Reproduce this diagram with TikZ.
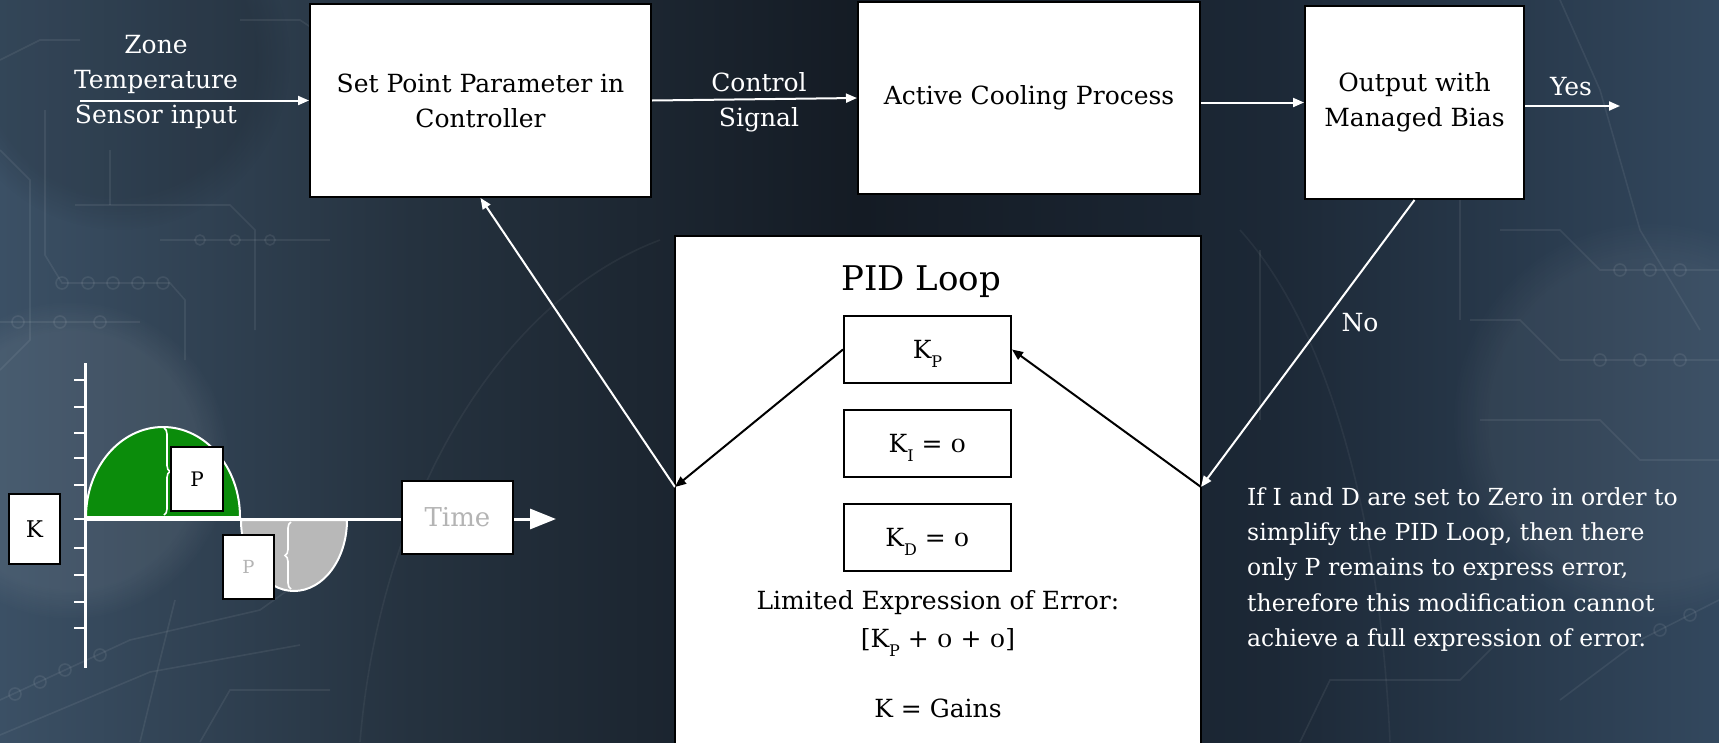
\documentclass[tikz,border=0pt]{standalone}
\usepackage{fontspec}
\setmainfont{DejaVu Serif}
\usetikzlibrary{arrows.meta,decorations.pathreplacing,fadings}

\definecolor{bgEdgeL}{HTML}{3B5065}
\definecolor{bgMidL}{HTML}{25323F}
\definecolor{bgCore}{HTML}{141B24}
\definecolor{bgMidR}{HTML}{1C2836}
\definecolor{bgEdgeR}{HTML}{33485E}
\definecolor{humpGreen}{HTML}{0B8C0B}
\definecolor{humpGrey}{HTML}{B8B8B8}
\definecolor{dimText}{HTML}{B4B4B4}

\pgfdeclarehorizontalshading{boardbg}{100bp}{color(0bp)=(bgEdgeL); color(25bp)=(bgEdgeL); color(37bp)=(bgMidL); color(50bp)=(bgCore); color(62bp)=(bgMidR); color(75bp)=(bgEdgeR); color(100bp)=(bgEdgeR)}

\newcommand\bodysize{\fontsize{25}{35}\selectfont}
\newcommand\lowsub[1]{\raisebox{-9pt}[0pt][0pt]{\fontsize{16}{16}\selectfont #1}}
% old-style looking zero (x-height tall)
\newcommand\oszero{\scalebox{1}[0.72]{0}}

\tikzset{
  block/.style={draw=black, line width=2pt, fill=white, text=black, align=center, inner sep=0pt, font=\bodysize},
  gain/.style={block, minimum width=167pt, minimum height=67pt},
  tag/.style={draw=black, line width=2pt, fill=white, text=black, inner sep=0pt},
  whitetext/.style={text=white, align=center, font=\bodysize, inner sep=0pt},
  pidtext/.style={text=black, anchor=base, font=\bodysize, inner sep=0pt},
  flow/.style={draw=white, line width=2pt, -{Triangle[length=11pt,width=9pt]}},
  innerflow/.style={draw=black, line width=2pt, -{Triangle[length=11pt,width=9pt]}},
  hump/.style={draw=white, line width=2pt},
  axisline/.style={draw=white, line width=3pt},
  trace/.style={draw=white, draw opacity=0.07, line width=1.6pt},
  pad/.style={draw=white, draw opacity=0.08, line width=1.6pt},
}

\begin{document}
\begin{tikzpicture}[x=1pt,y=-1pt]
\useasboundingbox (0,0) rectangle (1719,742);
\shade[shading=boardbg] (0,0) rectangle (1719,742);
% soft glows of the board backdrop
\fill[white, opacity=0.07, path fading=circle with fuzzy edge 20 percent] (70,460) circle (160pt);
\fill[white, opacity=0.05, path fading=circle with fuzzy edge 20 percent] (1650,420) circle (200pt);
\fill[black, opacity=0.12, path fading=circle with fuzzy edge 20 percent] (120,60) circle (170pt);

% faint circuit traces in the backdrop
\draw[trace] (0,150) -- (30,180) -- (30,340) -- (0,370);
\draw[trace] (45,110) -- (45,255) -- (62,283) -- (170,283) -- (185,300) -- (185,360);
\foreach \px in {62,88,113,138,163} \draw[pad] (\px,283) circle (6pt);
\draw[trace] (0,322) -- (140,322);
\foreach \px in {18,60,100} \draw[pad] (\px,322) circle (6pt);
\draw[trace] (75,205) -- (230,205) -- (255,230) -- (255,330);
\draw[trace] (110,150) -- (110,205);
\draw[trace] (160,240) -- (330,240);
\foreach \px in {200,235,270} \draw[pad] (\px,240) circle (5pt);
\draw[trace] (0,700) -- (130,640) -- (260,610) -- (330,560);
\draw[trace] (0,735) -- (150,672) -- (300,645);
\foreach \px/\py in {15/694, 40/682, 65/670, 100/655} \draw[pad] (\px,\py) circle (6pt);
\draw[trace] (140,742) -- (160,660) -- (175,600);
\draw[trace] (200,742) -- (230,690) -- (330,690);
\draw[trace] (240,20) -- (300,20) -- (330,40);
\draw[trace] (0,60) -- (40,40) -- (80,40);
\draw[trace] (1560,0) -- (1600,90) -- (1640,230) -- (1700,330);
\draw[trace] (1500,230) -- (1560,230) -- (1600,270) -- (1719,270);
\foreach \px in {1620,1650,1680} \draw[pad] (\px,270) circle (6pt);
\draw[trace] (1470,320) -- (1520,320) -- (1560,360) -- (1719,360);
\foreach \px in {1600,1640,1680} \draw[pad] (\px,360) circle (6pt);
\draw[trace] (1480,420) -- (1600,420) -- (1640,460) -- (1719,460);
\draw[trace] (1560,700) -- (1640,640) -- (1719,600);
\draw[trace] (1300,742) -- (1330,680) -- (1460,680) -- (1500,640);
\foreach \px/\py in {1660/630, 1690/615} \draw[pad] (\px,\py) circle (6pt);
\draw[trace] (1260,250) -- (1260,420);
\draw[trace] (1460,200) -- (1460,320);
\draw[trace, draw opacity=0.05] (360,742) .. controls (380,500) and (500,300) .. (660,240);
\draw[trace, draw opacity=0.05] (1240,230) .. controls (1330,330) and (1380,520) .. (1390,742);

% main process blocks
\node[block, minimum width=341pt, minimum height=193pt] (set) at (480.5,100.5) {Set Point Parameter in\\Controller};
\node[block, minimum width=342pt, minimum height=192pt] (active) at (1029,98) {Active Cooling Process};
\node[block, minimum width=219pt, minimum height=193pt] (output) at (1414.5,102.5) {Output with\\Managed Bias};

% PID panel
\node[block, minimum width=526pt, minimum height=520pt, anchor=north] (pid) at (938,235) {};
\node[pidtext, font=\fontsize{34}{40}\selectfont] (pidtitle) at (921,290) {PID Loop};
\node[gain] (kp) at (927.5,349.5) {K\lowsub{P}};
\node[gain] (ki) at (927.5,443.5) {K\lowsub{I} = \oszero};
\node[gain] (kd) at (927.5,537.5) {K\lowsub{D} = \oszero};
\node[pidtext] (errline) at (938,609) {Limited Expression of Error:};
\node[pidtext] (errsum) at (938,647) {[K\lowsub{P} + \oszero{} + \oszero]};
\node[pidtext] (gains) at (938,717) {K = Gains};

% error chart
\filldraw[fill=humpGreen, hump] (86,517) arc[start angle=180, end angle=0, x radius=77pt, y radius=90pt] -- cycle;
\filldraw[fill=humpGrey, hump] (241,520) arc[start angle=180, end angle=360, x radius=53pt, y radius=71pt] -- cycle;
\draw[white, line width=1.6pt, decorate, decoration={brace, amplitude=6pt}] (164,428) -- (164,515);
\draw[white, line width=1.6pt, decorate, decoration={brace, amplitude=6pt}] (291,589) -- (291,522);
\foreach \ty in {380,407,433,458,485,519,548,575,602,628}
  \draw[white, line width=2pt] (74,\ty) -- (85,\ty);
\draw[axisline] (85,363) -- (85,668);
\draw[axisline, -{Triangle[length=26pt,width=20pt]}] (85,519) -- (556,519);
\node[tag, minimum width=51pt, minimum height=70pt, font=\fontsize{23}{23}\selectfont] (kbox) at (34.5,529) {K};
\node[tag, minimum width=52pt, minimum height=64pt, font=\fontsize{20}{20}\selectfont] (pup) at (197,479) {P};
\node[tag, minimum width=51pt, minimum height=64pt, text=dimText, font=\fontsize{18}{18}\selectfont] (pdown) at (248.5,567) {P};
\node[tag, minimum width=111pt, minimum height=73pt, text=dimText, font=\fontsize{26}{26}\selectfont] (time) at (457.5,517.5) {Time};

% free labels
\node[whitetext] (zone) at (156,82) {Zone\\Temperature\\Sensor input};
\node[whitetext] (ctrl) at (759,102) {Control\\Signal};
\node[whitetext] (yes) at (1571,87) {Yes};
\node[whitetext] (no) at (1360,323) {No};
\node[whitetext, align=left, anchor=north west, font=\fontsize{23.5}{35.4}\selectfont] (note) at (1247,487)
  {If I and D are set to Zero in order to\\simplify the PID Loop, then there\\only P remains to express error,\\therefore this modification cannot\\achieve a full expression of error.};

% connectors
\coordinate (zin) at (80,100.5);
\coordinate (pl) at (675,487);
\coordinate (pr) at (1201,487);
\coordinate (yesend) at (1620,106);
\draw[flow] (zin) -- (set.west);
\draw[flow] (set.east) -- (active.west);
\draw[flow] (active.east |- output.west) -- (output.west);
\draw[flow] (output.east |- yesend) -- (yesend);
\draw[flow] (output.south) -- (pr);
\draw[flow] (pl) -- (set.south);
\draw[innerflow] (kp.west) -- (pl);
\draw[innerflow] (pr) -- (kp.east);
\end{tikzpicture}
\end{document}
